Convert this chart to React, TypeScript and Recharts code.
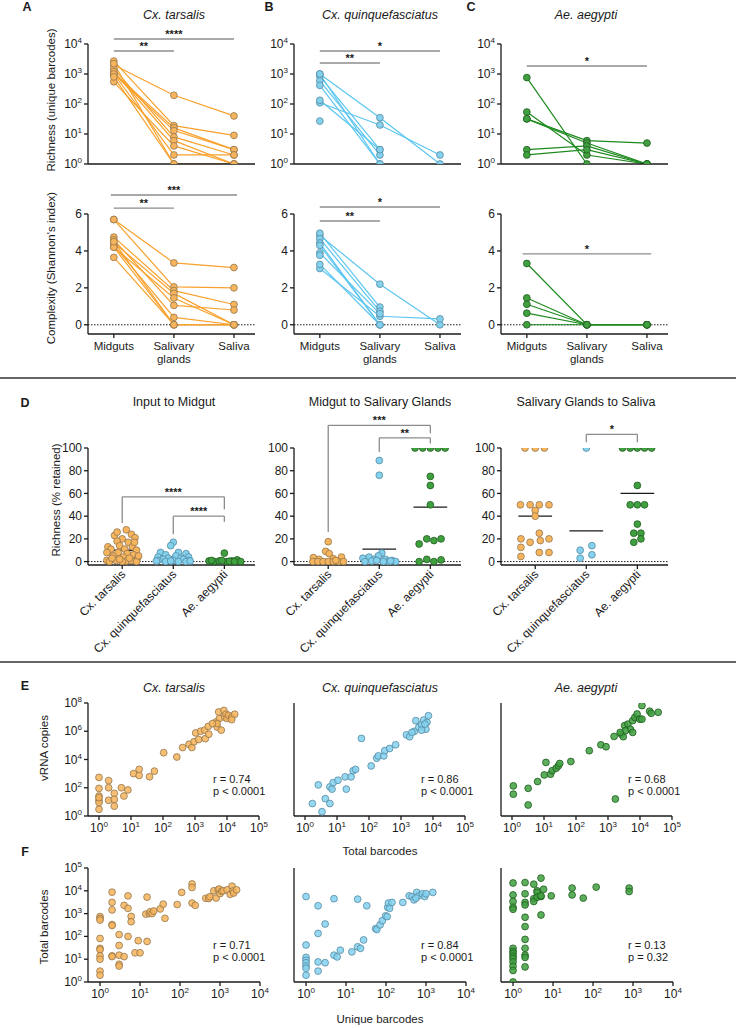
import React from "react";
import { LineChart, Line, ScatterChart, Scatter, XAxis, YAxis, ReferenceLine } from "recharts";

const FONT = '"Liberation Sans", Arial, Helvetica, sans-serif';
const INK = "#1a1a1a";
const BAR = "#8c8c8c";

const stageLines = [["Midguts"], ["Salivary", "glands"], ["Saliva"]];
const speciesNames = ["Cx. tarsalis", "Cx. quinquefasciatus", "Ae. aegypti"];

const ORANGE = { line: "#F8A12C", fill: "#F6B45C", stroke: "#94764E" };
const BLUE = { line: "#5CC6F0", fill: "#84D1EE", stroke: "#568AA2" };
const GREEN = { line: "#1E8A1E", fill: "#40A040", stroke: "#1E5C1E" };
const palette = [ORANGE, BLUE, GREEN];

// one row per mosquito: [midguts, salivary glands, saliva], null = nothing to plot
const tarsalisRichness = [
  [2000, 195, 40], [2700, 19, 9], [1100, 16, 3], [1000, 13, 3], [1500, 8, 2],
  [1200, 6, 1], [550, 4, 1], [1000, 2, 2], [2200, 1, 1], [800, 1, 1],
];
const quinqRichness = [
  [1000, 35, 1], [110, 20, 2], [850, 3, null], [590, 2, null], [420, 1, null],
  [1000, 1, null], [133, 3, null], [27, null, null],
];
const aegyptiRichness = [
  [760, 1, null], [54, 2, 1], [32, 6, 5], [32, 5, 1], [3, 4, 1], [2, 3, 1],
];

const tarsalisShannon = [
  [5.7, 3.35, 3.1], [5.7, 2.05, 2.0], [4.75, 1.85, 1.1], [4.6, 1.05, 0.8], [4.45, 1.7, 0],
  [4.3, 0.4, 0], [4.2, 1.45, 0], [4.2, 0, 0], [3.65, 0, 0], [4.5, 0, 0],
];
const quinqShannon = [
  [4.84, 2.2, 0], [3.05, 0.46, 0.32], [4.96, 0.96, null], [4.66, 0.73, null], [4.43, 0, null],
  [4.3, 0, null], [3.89, 0.6, null], [3.27, 0, null], [3.77, null, null],
];
const aegyptiShannon = [
  [3.32, 0, 0], [1.45, 0, 0], [1.11, 0, 0], [0.63, 0, 0], [0, 0, 0],
];

// significance bars: [from stage, to stage, height, stars]
const richnessBars = [
  [[0, 2, 14700, "****"], [0, 1, 5850, "**"]],
  [[0, 2, 5850, "*"], [0, 1, 2330, "**"]],
  [[0, 2, 1850, "*"]],
];
const shannonBars = [
  [[-0.05, 2.05, 7.03, "***"], [0, 1, 6.32, "**"]],
  [[0, 2, 6.38, "*"], [0, 1, 5.62, "**"]],
  [[-0.07, 2.07, 3.84, "*"]],
];

// % retained, one row per mosquito: [jitter within column, value]
const inputMidgutTarsalis = [
  [-0.15, 23], [0.08, 28], [0.18, 24], [0.25, 21], [0, 20], [-0.1, 18], [0.12, 17], [-0.28, 13],
  [-0.05, 14], [0.2, 13], [-0.22, 11], [0.05, 11], [0.28, 10], [-0.3, 8], [-0.08, 8], [0.1, 7],
  [0.22, 6], [-0.18, 5], [0.02, 4], [0.3, 3], [-0.3, 1], [-0.12, 1], [0.08, 0.5], [0.18, 1],
  [-0.25, 0], [0, 0], [0.28, 0], [-0.05, 2], [0.14, 3], [-0.2, 3], [0.24, 17], [-0.1, 26], [0.32, 5],
];
const inputMidgutQuinq = [
  [0, 17], [-0.05, 14], [-0.25, 8], [0.1, 8], [0.25, 7], [-0.15, 6], [0.05, 5], [-0.3, 4], [0.3, 4],
  [-0.1, 3], [0.15, 3], [-0.2, 2], [0.2, 2], [0, 1], [-0.3, 1], [0.3, 1], [-0.15, 0], [0.1, 0],
  [0.25, 0], [-0.05, 0.5], [0.33, 0.5], [-0.33, 0.5],
];
const inputMidgutAegypti = [
  [0, 7.5], [-0.3, 0.5], [-0.2, 0], [-0.1, 0.5], [0.05, 0], [0.15, 0.5], [0.25, 1.5], [0.32, 0],
  [-0.05, 1], [0.1, 0.3], [-0.25, 1], [0.2, 0],
];
const midgutSgTarsalis = [
  [0, 17.5], [-0.05, 9], [0.02, 7], [-0.29, 3.5], [0.26, 4], [-0.18, 2], [0.1, 2.5], [-0.3, 0],
  [-0.2, 0], [-0.1, 0], [0, 0], [0.1, 0], [0.2, 0], [0.3, 0], [0.15, 1],
];
const midgutSgQuinq = [
  [0, 89], [0, 76], [0.05, 7.5], [-0.02, 5], [-0.2, 4], [-0.32, 3], [-0.1, 2], [0.12, 2], [0.25, 1],
  [0.32, 0], [-0.28, 0], [0.18, 0], [-0.15, 0.5], [0.08, 0], [0.22, 0.5], [-0.05, 1],
];
const midgutSgAegypti = [
  [-0.3, 100], [-0.15, 100], [0, 100], [0.15, 100], [0.29, 100], [0, 75], [0, 67], [0, 50],
  [-0.22, 15.5], [-0.07, 20], [0.07, 18.5], [0.21, 20], [-0.22, 0], [-0.07, 2], [0.07, 0], [0.21, 1.5],
];
const sgSalivaTarsalis = [
  [-0.2, 100], [0, 100], [0.18, 100], [-0.29, 50], [-0.1, 50], [0.08, 50], [0.27, 50], [0, 45],
  [0, 40], [0.08, 25], [-0.28, 20], [0.27, 20], [0.1, 18.5], [-0.1, 17], [-0.28, 12.5], [0.08, 8],
  [0.27, 8], [-0.28, 4.5],
];
const sgSalivaQuinq = [[0, 100], [0.11, 14], [-0.12, 10], [0.11, 6], [-0.12, 3]];
const sgSalivaAegypti = [
  [-0.29, 100], [-0.14, 100], [0, 100], [0.14, 100], [0.28, 100], [0, 67], [-0.14, 50], [0, 50],
  [0.14, 50], [0, 33], [-0.07, 25], [0.07, 25], [0.07, 20], [-0.07, 17],
];

const inputMidgutMeans = [10, 4, 0.6];
const midgutSgMeans = [2, 11, 48];
const sgSalivaMeans = [40, 27, 60];

// brackets: [left group, right group, bar height, left leg end, right leg end, stars]
const inputMidgutBrackets = [[0, 2, 57, 34, 46, "****"], [1, 2, 40, 24, 35, "****"]];
const midgutSgBrackets = [[0, 2, 120, 26, 113, "***"], [1, 2, 109, 96.5, 104, "**"]];
const sgSalivaBrackets = [[1, 2, 112, 105, 105, "*"]];

// E: [total barcodes, vRNA copies]
const vrnaTarsalis = [
  [1, 540], [1, 90], [1, 26], [1, 13], [1, 9], [1, 3], [1, 20], [2, 320], [2, 100], [2, 13],
  [3, 40], [3, 15], [3, 5], [5, 100], [6, 26], [8, 70], [12, 1000], [18, 2000], [18, 740],
  [38, 600], [54, 1500], [105, 30000], [270, 15000], [410, 70000], [650, 120000], [800, 70000],
  [930, 180000], [1050, 760000], [1300, 260000], [1500, 1000000], [2000, 1200000], [2100, 300000],
  [2600, 2200000], [2700, 620000], [4600, 4600000], [4900, 2000000], [5500, 23000000],
  [5800, 8000000], [6600, 1200000], [8000, 30000000], [8500, 10000000], [9300, 16000000],
  [10000, 8000000], [11200, 13500000], [14000, 10000000], [17400, 16000000], [14000, 6600000],
  [4900, 3500000], [3500, 3500000],
];
const vrnaQuinq = [
  [1.7, 7.6], [3.4, 2], [2.6, 160], [4.3, 17], [6, 7.6], [6, 115], [7, 80], [7.6, 230], [10.7, 340],
  [19.5, 80], [18, 590], [27.5, 590], [32, 1600], [38, 2000], [58, 310000], [117, 3500],
  [174, 12300], [195, 18000], [290, 18000], [310, 42000], [440, 60000], [680, 110000],
  [1480, 560000], [1860, 410000], [2600, 980000], [2900, 5600000], [3600, 1900000],
  [4400, 2900000], [5100, 6200000], [6000, 1400000], [6500, 4300000], [7200, 12600000],
  [5600, 3200000], [4400, 1200000], [2200, 830000],
];
const vrnaAegypti = [
  [1.1, 135], [1.1, 35], [3.2, 91], [3.2, 6], [6.3, 275], [11.5, 6200], [10.2, 810], [16, 910],
  [18, 1600], [24, 2400], [28, 3500], [31, 5200], [69, 7200], [260, 42000], [600, 110000],
  [870, 80000], [1700, 16], [1550, 430000], [2600, 630000], [3000, 410000], [3300, 2500000],
  [4200, 3200000], [5000, 1400000], [5900, 830000], [5900, 5600000], [6900, 9500000],
  [8100, 16600000], [9800, 7200000], [11500, 7200000], [11500, 65000000], [20000, 26000000],
  [22400, 18600000], [37000, 22000000], [3500, 1100000], [2400, 830000],
];

// F: [unique barcodes, total barcodes]
const barcodesTarsalis = [
  [1, 740], [1, 620], [1, 520], [1, 81], [1, 30], [1, 26], [1, 14], [1, 10], [1, 3], [1, 2],
  [2, 8700], [2, 3100], [2, 1450], [2, 330], [2, 300], [2, 14], [2, 13], [3, 120], [3, 40], [3, 15],
  [3, 6], [3, 5], [4, 2300], [4, 13], [5, 6000], [5, 1700], [5, 100], [6, 750], [6, 440],
  [7.5, 19], [10, 19], [9, 65], [15, 60], [15, 5300], [14, 950], [17, 1000], [18, 1200], [20, 1000],
  [22, 1300], [32, 1600], [38, 2600], [42, 620], [85, 2500], [110, 8500], [200, 20000],
  [200, 14000], [200, 2900], [240, 2300], [440, 4700], [520, 4600], [560, 5500], [700, 10000],
  [800, 4800], [900, 11000], [950, 12000], [1000, 7500], [1100, 9500], [1200, 10000],
  [1500, 11000], [1800, 7000], [2000, 16000], [2100, 9800], [2200, 8000], [2600, 11000],
];
const barcodesQuinq = [
  [1, 5600], [1, 42], [1, 12], [1, 9], [1, 7], [1, 5], [1, 4], [1, 2], [2, 2200], [2, 135],
  [2, 7.6], [2, 3], [3, 350], [3, 7], [5, 4500], [5, 15], [6, 12.6], [7.2, 25], [14, 21],
  [19.5, 4300], [19.5, 35], [23, 30], [27.5, 70], [33, 2200], [55, 220], [59, 200], [71, 320],
  [81, 490], [98, 800], [107, 740], [110, 1900], [115, 2900], [123, 1700], [141, 3100],
  [263, 3100], [380, 6000], [447, 5600], [500, 4000], [590, 8500], [660, 6000], [810, 7400],
  [930, 5600], [1000, 7400], [1480, 8500], [560, 4800],
];
const barcodesAegypti = [
  [1, 22000], [1, 6600], [1, 3400], [1, 1900], [1, 1550], [1, 30], [1, 22], [1, 18], [1, 13.5],
  [1, 10.7], [1, 7.6], [1, 4.9], [1, 3.2], [1, 1], [2, 23000], [2, 7400], [2, 3100], [2, 2400],
  [2, 690], [2, 270], [2, 74], [2, 30], [2, 15], [2, 12], [2, 4.6], [3.3, 19500], [3.3, 4500],
  [3.3, 3400], [4, 10000], [4, 8500], [4, 5200], [5, 36000], [5, 5600], [5, 6000], [5, 870],
  [5.8, 11700], [9, 6000], [30, 13200], [30, 6600], [57, 4800], [120, 14500], [800, 13200],
  [800, 9300],
];

const vrnaStats = [["r = 0.74", "p < 0.0001"], ["r = 0.86", "p < 0.0001"], ["r = 0.68", "p < 0.0001"]];
const barcodeStats = [["r = 0.71", "p < 0.0001"], ["r = 0.84", "p < 0.0001"], ["r = 0.13", "p = 0.32"]];

const panelAxisX = [88, 294, 501];
const Y_W = 40;
const M_RIGHT = 16;

function frame(axisX: number, plotTop: number, plotW: number, plotH: number, xAxisH: number, mTop: number) {
  return {
    style: { position: "absolute" as const, left: axisX - Y_W, top: plotTop - mTop },
    width: plotW + Y_W + M_RIGHT,
    height: plotH + mTop + xAxisH,
    margin: { top: mTop, right: M_RIGHT, bottom: 0, left: 0 },
  };
}

function PowTick({ x, y, payload, textAnchor, axis }: any) {
  const exp = Math.round(Math.log10(payload.value));
  return (
    <text x={x} y={y} dy={axis === "x" ? 10 : 4} textAnchor={textAnchor} fontSize={12} fill={INK} fontFamily={FONT}>
      10<tspan dy={-5} fontSize={8}>{exp}</tspan>
    </text>
  );
}

function StageTick({ x, y, payload }: any) {
  return (
    <text x={x} y={y} textAnchor="middle" fontSize={11.5} fill={INK} fontFamily={FONT}>
      {stageLines[payload.value].map((l, i) => (
        <tspan key={i} x={x} dy={i === 0 ? 10 : 13}>{l}</tspan>
      ))}
    </text>
  );
}

function SpeciesTick({ x, y, payload }: any) {
  return (
    <text x={x + 4} y={y + 4} transform={`rotate(-45 ${x + 4} ${y + 4})`} textAnchor="end" fontSize={12} fill={INK} fontFamily={FONT}>
      {speciesNames[payload.value]}
    </text>
  );
}

const dotShape = (c: typeof ORANGE, op = 1) => (p: any) => (
  <circle cx={p.cx} cy={p.cy} r={3.4} fill={c.fill} fillOpacity={op} stroke={c.stroke} strokeWidth={0.8} />
);

const axisStyle = { stroke: INK, strokeWidth: 1.3 };
const numTick = { fontSize: 12, fill: INK, fontFamily: FONT };

function PairedPanel({ col, samples, log, bars }: any) {
  const color = palette[col];
  const rows = [0, 1, 2].map((i) => {
    const r: Record<string, number | null> = { x: i };
    samples.forEach((s: (number | null)[], j: number) => (r["s" + j] = s[i]));
    return r;
  });
  const f = log ? frame(panelAxisX[col], 44, 167, 120, 8, 30) : frame(panelAxisX[col], 214, 167, 120, 40, 30);
  return (
    <div style={f.style}>
      <LineChart width={f.width} height={f.height} data={rows} margin={f.margin}>
        <XAxis dataKey="x" type="number" domain={[-0.43, 2.35]} ticks={[0, 1, 2]} allowDataOverflow interval={0}
          height={log ? 8 : 40} tickSize={4} axisLine={axisStyle} tickLine={axisStyle}
          tick={log ? false : <StageTick />} />
        <YAxis type="number" width={Y_W} scale={log ? "log" : "linear"} domain={log ? [1, 10000] : [-0.5, 6]}
          ticks={log ? [1, 10, 100, 1000, 10000] : [0, 2, 4, 6]} allowDataOverflow interval={0} tickSize={4}
          axisLine={axisStyle} tickLine={axisStyle} tick={log ? <PowTick axis="y" /> : numTick} />
        {!log && <ReferenceLine y={0} stroke={INK} strokeDasharray="1.5 1.5" />}
        {samples.map((_: any, j: number) => (
          <Line key={j} dataKey={"s" + j} type="linear" stroke={color.line} strokeWidth={1.2}
            dot={{ r: 3.4, fill: color.fill, stroke: color.stroke, strokeWidth: 0.8 }} activeDot={false}
            connectNulls={false} isAnimationActive={false} />
        ))}
        {bars.map((b: any, k: number) => (
          <ReferenceLine key={"b" + k} segment={[{ x: b[0], y: b[2] }, { x: b[1], y: b[2] }]} ifOverflow="visible"
            stroke={BAR} strokeWidth={1.4}
            label={{ value: b[3], position: "top", offset: 1, fontSize: 11, fill: INK, fontWeight: 700 }} />
        ))}
      </LineChart>
    </div>
  );
}

function SwarmPanel({ col, groups, means, brackets }: any) {
  const f = frame(panelAxisX[col], 448, 167, 117, 92, 44);
  return (
    <div style={f.style}>
      <ScatterChart width={f.width} height={f.height} margin={f.margin}>
        <XAxis dataKey="x" type="number" domain={[-0.67, 2.6]} ticks={[0, 1, 2]} allowDataOverflow interval={0}
          height={92} tickSize={4} axisLine={axisStyle} tickLine={axisStyle} tick={<SpeciesTick />} />
        <YAxis dataKey="y" type="number" width={Y_W} domain={[-3, 100]} ticks={[0, 20, 40, 60, 80, 100]}
          allowDataOverflow interval={0} tickSize={4} axisLine={axisStyle} tickLine={axisStyle} tick={numTick} />
        <ReferenceLine y={0} stroke={INK} strokeDasharray="1.5 1.5" />
        {groups.map((g: number[][], i: number) => (
          <Scatter key={i} data={g.map(([dx, v]) => ({ x: i + dx, y: v }))} shape={dotShape(palette[i])}
            isAnimationActive={false} />
        ))}
        {means.map((m: number, i: number) => (
          <ReferenceLine key={"m" + i} segment={[{ x: i - 0.33, y: m }, { x: i + 0.33, y: m }]} ifOverflow="visible"
            stroke={INK} strokeWidth={1.3} />
        ))}
        {brackets.map((b: any, k: number) => [
          <ReferenceLine key={"l" + k} segment={[{ x: b[0], y: b[3] }, { x: b[0], y: b[2] }]} ifOverflow="visible"
            stroke={BAR} strokeWidth={1.3} />,
          <ReferenceLine key={"t" + k} segment={[{ x: b[0], y: b[2] }, { x: b[1], y: b[2] }]} ifOverflow="visible"
            stroke={BAR} strokeWidth={1.3}
            label={{ value: b[5], position: "top", offset: 1, fontSize: 11, fill: INK, fontWeight: 700 }} />,
          <ReferenceLine key={"r" + k} segment={[{ x: b[1], y: b[2] }, { x: b[1], y: b[4] }]} ifOverflow="visible"
            stroke={BAR} strokeWidth={1.3} />,
        ])}
      </ScatterChart>
    </div>
  );
}

function CorrPanel({ col, data, row }: any) {
  const isE = row === "E";
  const f = isE ? frame(panelAxisX[col], 703, 171, 113, 24, 10) : frame(panelAxisX[col], 868, 172, 114, 24, 10);
  const xTicks = isE ? [1, 10, 100, 1000, 10000, 100000] : [1, 10, 100, 1000, 10000];
  const yTicks = isE ? [1, 100, 10000, 1000000, 100000000] : [1, 10, 100, 1000, 10000, 100000];
  return (
    <div style={f.style}>
      <ScatterChart width={f.width} height={f.height} margin={f.margin}>
        <XAxis dataKey="x" type="number" scale="log" domain={isE ? [0.453, 100000] : [0.5, 10000]} ticks={xTicks}
          allowDataOverflow interval={0} height={24} tickSize={4} axisLine={axisStyle} tickLine={axisStyle}
          tick={<PowTick axis="x" />} />
        <YAxis dataKey="y" type="number" scale="log" width={Y_W} domain={isE ? [1, 100000000] : [1, 100000]}
          ticks={yTicks} allowDataOverflow interval={0} tickSize={4} axisLine={axisStyle} tickLine={axisStyle}
          tick={col === 0 ? <PowTick axis="y" /> : false} />
        <Scatter data={data.map(([x, y]: number[]) => ({ x, y }))} shape={dotShape(palette[col], 0.85)}
          isAnimationActive={false} />
      </ScatterChart>
    </div>
  );
}

function Txt({ x, y, children, size = 12, italic = false, bold = false, rotate = false, left = false }: any) {
  return (
    <div style={{
      position: "absolute", left: x, top: y, whiteSpace: "nowrap", fontFamily: FONT, fontSize: size, color: INK,
      fontStyle: italic ? "italic" : "normal", fontWeight: bold ? 700 : 400, lineHeight: 1,
      transform: left ? "translate(0,-50%)" : `translate(-50%,-50%)${rotate ? " rotate(-90deg)" : ""}`,
    }}>{children}</div>
  );
}

const titleX = [174, 380, 586];
const statX = [213, 421, 628];

export default function App() {
  const richness = [tarsalisRichness, quinqRichness, aegyptiRichness];
  const shannon = [tarsalisShannon, quinqShannon, aegyptiShannon];
  const vrna = [vrnaTarsalis, vrnaQuinq, vrnaAegypti];
  const barcodes = [barcodesTarsalis, barcodesQuinq, barcodesAegypti];
  return (
    <div style={{ position: "absolute", left: 0, top: 0, width: 736, height: 1028, background: "#fff", fontFamily: FONT }}>
      <Txt x={27} y={7} bold size={12.5}>A</Txt>
      <Txt x={269} y={7} bold size={12.5}>B</Txt>
      <Txt x={471} y={7} bold size={12.5}>C</Txt>
      {speciesNames.map((s, i) => <Txt key={s} x={titleX[i]} y={15} italic size={12.5}>{s}</Txt>)}
      <Txt x={52} y={100} rotate size={11.5}>Richness (unique barcodes)</Txt>
      <Txt x={52} y={268} rotate size={11.5}>Complexity (Shannon's index)</Txt>
      {[0, 1, 2].map((c) => <PairedPanel key={"r" + c} col={c} samples={richness[c]} log bars={richnessBars[c]} />)}
      {[0, 1, 2].map((c) => <PairedPanel key={"s" + c} col={c} samples={shannon[c]} log={false} bars={shannonBars[c]} />)}

      <div style={{ position: "absolute", left: 0, top: 377, width: 736, height: 1.5, background: "#666" }} />

      <Txt x={25} y={403} bold size={12.5}>D</Txt>
      <Txt x={174} y={402} size={12.5}>Input to Midgut</Txt>
      <Txt x={380} y={402} size={12.5}>Midgut to Salivary Glands</Txt>
      <Txt x={586} y={402} size={12.5}>Salivary Glands to Saliva</Txt>
      <Txt x={57} y={500} rotate size={11.5}>Richness (% retained)</Txt>
      <SwarmPanel col={0} groups={[inputMidgutTarsalis, inputMidgutQuinq, inputMidgutAegypti]} means={inputMidgutMeans} brackets={inputMidgutBrackets} />
      <SwarmPanel col={1} groups={[midgutSgTarsalis, midgutSgQuinq, midgutSgAegypti]} means={midgutSgMeans} brackets={midgutSgBrackets} />
      <SwarmPanel col={2} groups={[sgSalivaTarsalis, sgSalivaQuinq, sgSalivaAegypti]} means={sgSalivaMeans} brackets={sgSalivaBrackets} />

      <div style={{ position: "absolute", left: 0, top: 661, width: 736, height: 1.5, background: "#666" }} />

      <Txt x={25} y={686} bold size={12.5}>E</Txt>
      {speciesNames.map((s, i) => <Txt key={"e" + s} x={titleX[i]} y={688} italic size={12.5}>{s}</Txt>)}
      <Txt x={45} y={748} rotate size={11.5}>vRNA copies</Txt>
      {[0, 1, 2].map((c) => <CorrPanel key={"e" + c} col={c} data={vrna[c]} row="E" />)}
      {vrnaStats.map((s, i) => (
        <React.Fragment key={"es" + i}>
          <Txt x={statX[i]} y={779} left size={11}>{s[0]}</Txt>
          <Txt x={statX[i]} y={791} left size={11}>{s[1]}</Txt>
        </React.Fragment>
      ))}
      <Txt x={380} y={852} size={11.5}>Total barcodes</Txt>

      <Txt x={25} y={852} bold size={12.5}>F</Txt>
      <Txt x={45} y={927} rotate size={11.5}>Total barcodes</Txt>
      {[0, 1, 2].map((c) => <CorrPanel key={"f" + c} col={c} data={barcodes[c]} row="F" />)}
      {barcodeStats.map((s, i) => (
        <React.Fragment key={"fs" + i}>
          <Txt x={statX[i]} y={945} left size={11}>{s[0]}</Txt>
          <Txt x={statX[i]} y={957} left size={11}>{s[1]}</Txt>
        </React.Fragment>
      ))}
      <Txt x={380} y={1020} size={11.5}>Unique barcodes</Txt>
    </div>
  );
}
